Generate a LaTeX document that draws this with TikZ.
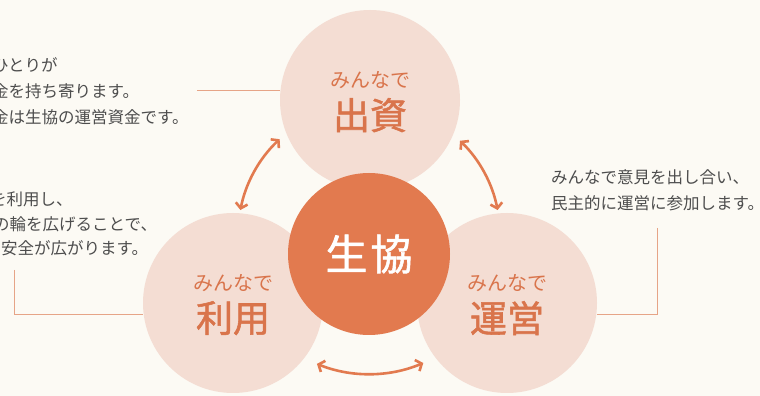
\documentclass[tikz,border=0pt]{standalone}
\usepackage{fontspec}
\setmainfont{Noto Sans CJK JP}
\newfontfamily\heavyjp[FakeBold=1.4]{Noto Sans CJK JP}
\usetikzlibrary{arrows.meta}
\definecolor{cream}{HTML}{FCFAF4}
\definecolor{petal}{HTML}{F4DDD3}
\definecolor{coop}{HTML}{E27A4F}
\definecolor{rust}{HTML}{D9744B}
\definecolor{ink}{HTML}{4D4D4D}
\definecolor{leadline}{HTML}{E6A487}
\newcommand{\kicker}[1]{{\fontsize{20}{22}\selectfont #1}}
\newcommand{\bigword}[1]{{\heavyjp\fontsize{37}{40}\selectfont #1}}

\begin{document}
\begin{tikzpicture}[x=1pt, y=1pt,
    petal/.style={circle, fill=petal, minimum size=180pt, inner sep=0pt},
    petaltext/.style={align=center, text=rust, inner sep=0pt, yshift=-2pt},
    core/.style={circle, fill=coop, minimum size=162pt, inner sep=0pt, text=white, font=\heavyjp\fontsize{42}{42}\selectfont},
    note/.style={anchor=west, inner sep=0pt, text=ink, font=\fontsize{16.5}{16.5}\selectfont},
    leader/.style={draw=leadline, line width=1pt},
    twoway/.style={draw=coop, line width=2.6pt, {Straight Barb[length=5pt,width=12pt]}-{Straight Barb[length=5pt,width=12pt]}}]
  \fill[cream] (0,0) rectangle (760,396);
  \useasboundingbox (0,0) rectangle (760,396);

  % circles
  \node[petal, label={[petaltext]center:{\kicker{みんなで}\\[8pt]\bigword{出資}}}] (shushi) at (370,296) {};
  \node[petal, label={[petaltext]center:{\kicker{みんなで}\\[8pt]\bigword{利用}}}] (riyo) at (233,93) {};
  \node[petal, label={[petaltext]center:{\kicker{みんなで}\\[8pt]\bigword{運営}}}] (unei) at (507,93) {};
  \node[core] (seikyo) at (369,142) {生\hspace{3pt}協};

  % arrows round the middle
  \coordinate (hub) at (369,161);
  \draw[twoway] ([shift={(133:131)}]hub) arc[start angle=133, end angle=169, radius=131];
  \draw[twoway] ([shift={(11:131)}]hub) arc[start angle=11, end angle=46, radius=131];
  \draw[twoway] ([shift={(248:139)}]hub) arc[start angle=248, end angle=293, radius=139];

  % notes
  \node[note] (n1) at (-8,331) {ひとりが};
  \node[note] (n2) at (-8,305) {金を持ち寄ります。};
  \node[note] (n3) at (-8,279) {金は生協の運営資金です。};
  \node[note] (n4) at (-10,197) {を利用し、};
  \node[note] (n5) at (-7,172) {の輪を広げることで、};
  \node[note] (n6) at (1,148) {安全が広がります。};
  \node[note] (n7) at (551,219) {みんなで意見を出し合い、};
  \node[note] (n8) at (551,193) {民主的に運営に参加します。};

  % leader lines
  \coordinate (t1) at (197,305);
  \coordinate (t2) at (14,126);
  \coordinate (t3) at (657,168);
  \draw[leader] (t1) -- (t1 -| shushi.west);
  \draw[leader] (t2) |- ([yshift=-12]riyo.west);
  \draw[leader] (t3) |- ([yshift=-12]unei.east);
\end{tikzpicture}
\end{document}
